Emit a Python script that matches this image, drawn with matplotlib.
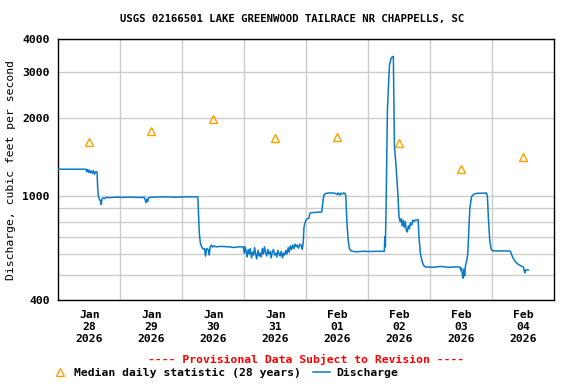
import matplotlib
matplotlib.use("Agg")
import matplotlib.pyplot as plt
from matplotlib.ticker import FixedLocator, NullFormatter
from matplotlib.lines import Line2D
import datetime as dt
import matplotlib.dates as mdates

# Median daily statistic (one value per day, plotted at noon)
median_days = ["2026-01-28", "2026-01-29", "2026-01-30", "2026-01-31",
               "2026-02-01", "2026-02-02", "2026-02-03", "2026-02-04"]
median_vals = [1610, 1780, 1970, 1680, 1695, 1600, 1270, 1420]

# Discharge: hours after 2026-01-28 00:00 and cfs values
q_hours = [0, 10.7, 11.0, 11.3, 11.7, 12.0, 12.4, 12.8, 13.2, 13.6, 14.0, 14.5, 15.0, 15.2,
           15.5, 15.9, 16.3, 16.6, 16.9, 17.3, 18.0, 18.5, 20.0, 22.0, 25.0, 28.0, 30.0,
           33.3, 33.7, 34.0, 34.3, 34.6, 34.9, 35.5, 40, 45, 50, 54.0, 54.3, 54.6, 55.0,
           55.5, 56.0, 56.6, 57.0, 57.4, 58.0, 58.4, 58.8, 59.3, 59.8, 60.3, 61.0, 63, 66,
           68, 70, 71.6, 72.0, 72.3, 72.7, 73.1, 73.5, 73.9, 74.3, 74.8, 75.2, 75.6, 76.0,
           76.4, 76.8, 77.3, 77.7, 78.1, 78.5, 79.0, 79.4, 79.8, 80.2, 80.7, 81.1, 81.5,
           82.0, 82.4, 82.8, 83.3, 83.7, 84.2, 84.6, 85.0, 85.5, 85.9, 86.3, 86.8, 87.2,
           87.6, 88.1, 88.5, 89.0, 89.4, 89.8, 90.3, 90.7, 91.2, 91.6, 92.1, 92.5, 93.0,
           93.5, 94.0, 94.4, 94.8, 95.1, 95.5, 96.0, 97.0, 97.4, 98, 100, 102.0, 102.4,
           102.8, 103.5, 105, 107, 108, 108.3, 109, 109.4, 110, 110.5, 111.0, 111.3, 111.7,
           112.2, 112.7, 113.2, 115, 118, 121, 124, 126.2, 126.4, 126.6, 126.9, 127.4,
           127.8, 128.2, 128.8, 129.2, 129.7, 129.9, 130.1, 130.7, 131.4, 131.9, 132.3,
           132.7, 133.1, 133.5, 133.9, 134.3, 134.7, 135.1, 135.5, 135.9, 136.3, 136.8,
           137.2, 137.7, 138.2, 139.3, 139.6, 140.2, 140.7, 141.3, 142, 145, 148, 151, 154,
           155.5, 155.8, 156.1, 156.4, 156.7, 157.0, 157.3, 157.6, 158.0, 158.5, 158.8,
           159.3, 160.0, 161.0, 162, 164, 165.8, 166.1, 166.5, 167.0, 167.5, 168.0, 170,
           173, 175.0, 175.4, 176, 177, 178, 179.2, 180.0, 180.3, 180.6, 180.9, 181.9]
q_vals = [1270, 1270, 1245, 1265, 1235, 1260, 1230, 1250, 1225, 1255, 1215, 1240, 1240, 1100,
          1000, 975, 960, 930, 975, 985, 980, 990, 988, 992, 990, 992, 990,
          990, 965, 945, 975, 955, 985, 990, 995, 992, 995, 995, 850, 720, 660,
          640, 628, 630, 590, 630, 625, 595, 640, 650, 638, 645, 640, 642, 640,
          636, 640, 640, 605, 640, 615, 585, 625, 600, 630, 580, 610, 595, 635,
          600, 575, 620, 590, 605, 585, 630, 600, 640, 610, 590, 625, 600,
          615, 580, 610, 625, 595, 605, 585, 620, 600, 590, 615, 580, 605,
          595, 620, 600, 635, 610, 645, 625, 650, 630, 655, 640, 650, 632,
          655, 650, 625, 660, 760, 790, 815, 825, 860, 865, 868, 870, 950,
          1010, 1025, 1030, 1028, 1015, 1030, 1010, 1028, 1020, 1030, 1025, 1000, 800,
          680, 630, 618, 612, 615, 614, 615, 615, 700, 640, 925, 2140,
          2650, 3190, 3370, 3420, 3440, 2400, 1570, 1320, 1040, 830, 800,
          820, 770, 810, 760, 800, 740, 730, 770, 750, 790, 775,
          810, 800, 810, 812, 700, 600, 570, 545, 536, 534, 538, 534, 536,
          535, 520, 530, 500, 485, 525, 495, 540, 560, 600, 700,
          900, 1000, 1020, 1026, 1028, 1028, 1000, 820, 680, 630, 618, 617,
          617, 616, 600, 580, 560, 548, 540, 536, 520, 508, 522, 521]

tick_labels = ["Jan\n28\n2026", "Jan\n29\n2026", "Jan\n30\n2026", "Jan\n31\n2026",
               "Feb\n01\n2026", "Feb\n02\n2026", "Feb\n03\n2026", "Feb\n04\n2026"]

mono = "DejaVu Sans Mono"
plt.rcParams['font.family'] = mono
plt.rcParams['font.weight'] = 'bold'

start = dt.datetime(2026, 1, 28)
q_times = [start + dt.timedelta(hours=h) for h in q_hours]
med_times = [dt.datetime.strptime(d, "%Y-%m-%d") + dt.timedelta(hours=12) for d in median_days]

fig = plt.figure(figsize=(5.76, 3.84), dpi=100)
ax = fig.add_axes([58.3 / 576, 84 / 384, 496 / 576, 260.7 / 384])

ax.plot(q_times, q_vals, color='#0a7ac8', lw=1.1, zorder=3)
ax.plot(med_times, median_vals, linestyle='none', marker='^', markersize=6,
        markerfacecolor='none', markeredgecolor='#ffa000', markeredgewidth=1, zorder=4)

ax.set_yscale('log')
ax.set_ylim(400, 4000)
ax.yaxis.set_major_locator(FixedLocator([400, 1000, 2000, 3000, 4000]))
ax.yaxis.set_minor_locator(FixedLocator([500, 600, 700, 800, 900]))
ax.yaxis.set_major_formatter(plt.FuncFormatter(lambda v, p: f"{int(v)}"))
ax.yaxis.set_minor_formatter(NullFormatter())

ax.set_xlim(start, start + dt.timedelta(days=8))
ax.xaxis.set_major_locator(FixedLocator([mdates.date2num(t) for t in med_times]))
ax.xaxis.set_major_formatter(plt.FixedFormatter(tick_labels))
ax.xaxis.set_minor_locator(FixedLocator([mdates.date2num(start + dt.timedelta(days=i))
                                         for i in range(1, 8)]))

ax.grid(False)
ax.grid(True, which='minor', axis='x', color='#cccccc', lw=1)
ax.grid(True, which='both', axis='y', color='#cccccc', lw=1)
ax.set_axisbelow(True)
ax.tick_params(which='both', length=0, labelsize=8.2)
ax.tick_params(axis='x', pad=7)
ax.tick_params(axis='y', pad=6)
for lab in ax.get_xticklabels():
    lab.set_linespacing(1.25)
for s in ax.spines.values():
    s.set_linewidth(1)

ax.set_ylabel("Discharge, cubic feet per second", fontsize=8.2, labelpad=5)
fig.text(292 / 576, 1 - 19 / 384, "USGS 02166501 LAKE GREENWOOD TAILRACE NR CHAPPELLS, SC",
         ha='center', va='center', fontsize=7.7)

fig.text(306 / 576, 1 - 359 / 384, "---- Provisional Data Subject to Revision ----",
         ha='center', va='center', fontsize=8.2, color='red')

# legend row
fig.add_artist(Line2D([60 / 576], [1 - 372 / 384], marker='^', markersize=6,
                      markerfacecolor='none', markeredgecolor='#ffa000',
                      markeredgewidth=1, transform=fig.transFigure))
fig.text(74 / 576, 1 - 373 / 384, "Median daily statistic (28 years)",
         ha='left', va='center', fontsize=8.2)
fig.add_artist(Line2D([313 / 576, 330 / 576], [1 - 372 / 384, 1 - 372 / 384],
                      color='#0a7ac8', lw=1.1, transform=fig.transFigure))
fig.text(336 / 576, 1 - 373 / 384, "Discharge", ha='left', va='center', fontsize=8.2)

fig.savefig("out.png", dpi=100)
